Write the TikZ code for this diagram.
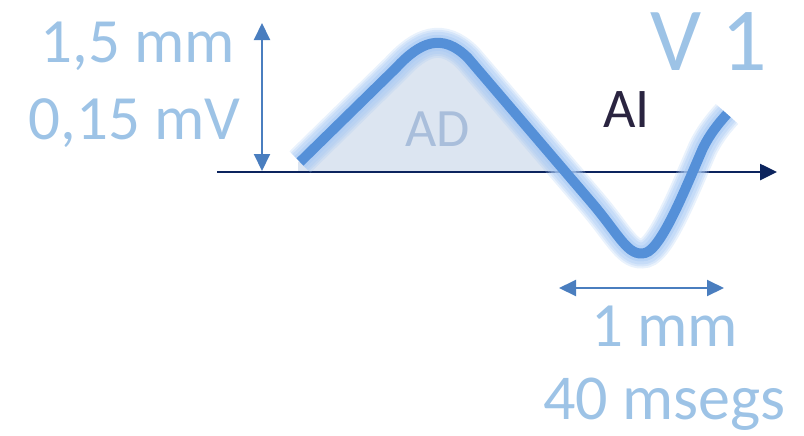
\documentclass[tikz,border=0pt]{standalone}
\usepackage{fontspec}
\setmainfont{Carlito}
\usetikzlibrary{arrows.meta}
\definecolor{wave}{HTML}{5590D8}
\definecolor{glow}{HTML}{A9CAF4}
\definecolor{pale}{HTML}{9DC3E6}
\definecolor{navy}{HTML}{0C245E}
\definecolor{steel}{HTML}{4A7EBF}
\definecolor{area}{HTML}{DCE5F1}
\definecolor{adtext}{HTML}{A9BEDB}
\definecolor{aitext}{HTML}{2A2440}
\tikzset{>={Triangle[length=8.5pt,width=8pt]},dim/.style={<->,steel,line width=1pt},lbl/.style={text=pale,font=\fontsize{31.5}{37}\selectfont,anchor=base west,inner sep=0pt},axis/.style={->,navy,line width=1.3pt}}

\begin{document}
\begin{tikzpicture}[x=0.5pt,y=-0.5pt]
\useasboundingbox (0,0) rectangle (804,435);
% shaded area under the wave
\fill[area] (298,172) -- (298,162) -- (396,68) .. controls (420,42) and (442,32) .. (468,58) -- (568,172) -- cycle;
\node[anchor=base west,inner sep=0pt,text=adtext,font=\fontsize{27}{32}\selectfont] (ad) at (405,146) {AD};
\node[anchor=base west,inner sep=0pt,text=aitext,font=\fontsize{28}{33}\selectfont] (ai) at (603,127) {AI};
% baseline
\coordinate (a0) at (217,172);
\coordinate (a1) at (777,172);
\draw[axis] (a0) -- (a1);
% wave with soft glow
\foreach \w/\c/\o in {15pt/glow/.25,13pt/glow/.3,11pt/glow/.35,8pt/glow/.5,5pt/wave/1}
\draw[line width=\w,\c,opacity=\o] (300,162) -- (396,68) .. controls (420,42) and (442,32) .. (468,58) -- (592,203) .. controls (620,236) and (628,257) .. (645,253) .. controls (662,249) and (688,182) .. (703,148) .. controls (710,134) and (718,124) .. (727,114);
% amplitude
\coordinate (v0) at (262,23);
\coordinate (v1) at (262,171);
\draw[dim] (v0) -- (v1);
\node[lbl] (mm) at (40,62) {1,5 mm};
\node[lbl] (mv) at (28,139) {0,15 mV};
% duration
\coordinate (h0) at (559,288);
\coordinate (h1) at (724,288);
\draw[dim] (h0) -- (h1);
\node[lbl] (tmm) at (591,346) {1 mm};
\node[lbl,font=\fontsize{32}{38}\selectfont] (ms) at (543,419) {40 msegs};
\node[lbl,font=\fontsize{45}{54}\selectfont] (lead) at (650,70) {V 1};
\end{tikzpicture}
\end{document}
